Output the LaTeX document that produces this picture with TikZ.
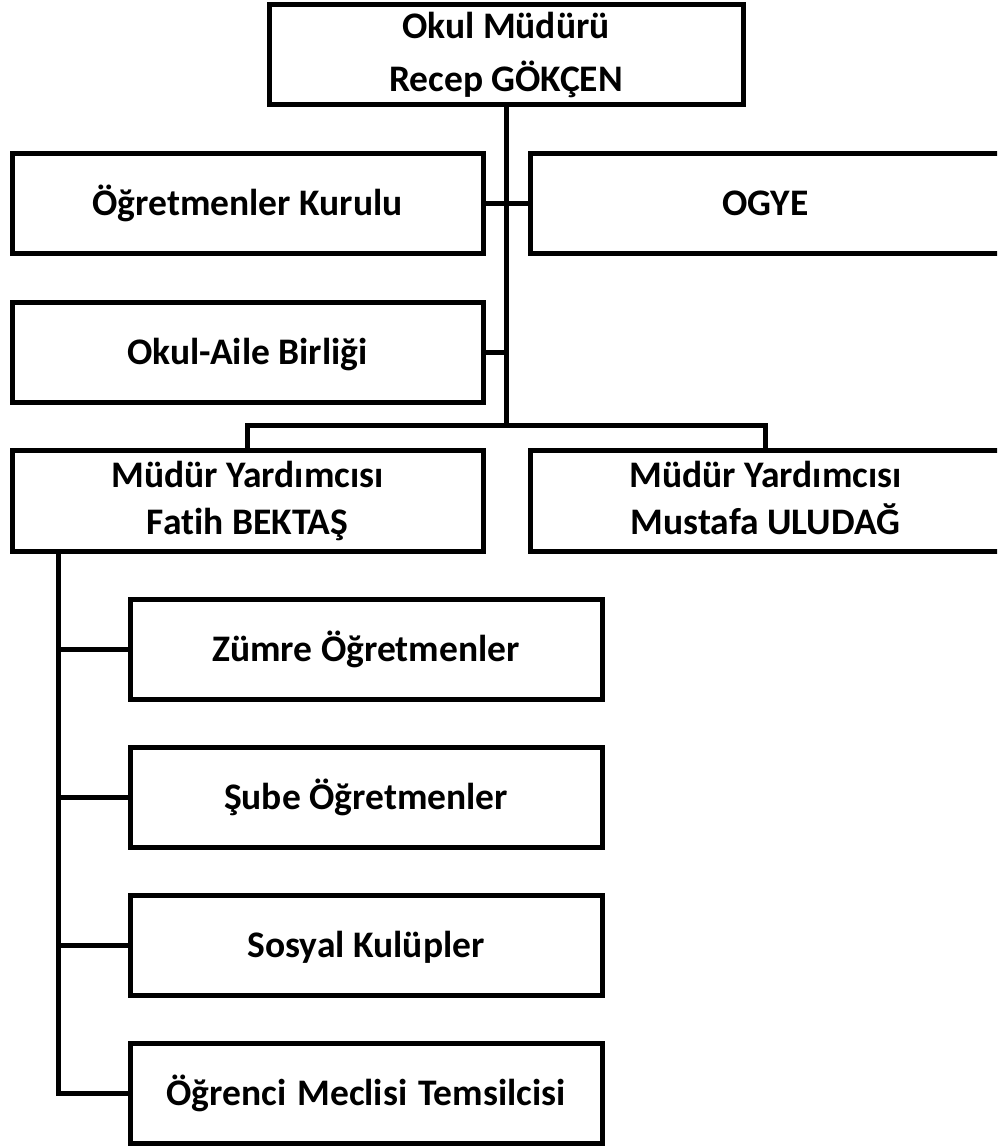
\documentclass[tikz,border=0pt]{standalone}
\usepackage{fontspec}
\setmainfont{Carlito}[Ligatures=NoCommon]
\usetikzlibrary{calc}
\tikzset{
  orgbox/.style={draw=black, line width=5pt, fill=white, rectangle, inner sep=0pt,
    minimum width=471pt, minimum height=100pt},
  topbox/.style={orgbox, minimum width=474pt},
  subbox/.style={orgbox, minimum width=472pt, minimum height=100pt},
  lbl/.style={font=\fontsize{37.5}{42}\selectfont\bfseries, text=black, inner sep=0pt},
  onel/.style={lbl, text height=24pt, text depth=0pt},
  conn/.style={draw=black, line width=5pt}
}
\begin{document}
\begin{tikzpicture}[x=1pt, y=-1pt]
\clip (0,0) rectangle (997,1147);
\fill[white] (0,0) rectangle (997,1147);
% boxes
\node[topbox] (top) at (506,55) {};
\node[orgbox] (okurul) at (247.5,204) {};
\node[orgbox] (ogye) at (765.5,204) {};
\node[orgbox] (oab) at (247.5,352) {};
\node[orgbox, minimum height=101pt] (my1) at (247.5,500.5) {};
\node[orgbox, minimum height=101pt] (my2) at (765.5,500.5) {};
\node[subbox] (zum) at (366,649) {};
\node[subbox] (sube) at (366,797) {};
\node[subbox] (sos) at (366,945) {};
\node[subbox] (ogr) at (366,1093) {};
% texts
\node[lbl, anchor=base] (top-a) at ($(top.center)+(0,-16.5)$) {Okul Müdürü};
\node[lbl, anchor=base] (top-b) at ($(top.center)+(0,37)$) {Recep GÖKÇEN};
\node[onel] (okurul-t) at (okurul.center) {Öğretmenler Kurulu};
\node[onel] (ogye-t) at (ogye.center) {OGYE};
\node[onel] (oab-t) at (oab.center) {Okul-Aile Birliği};
\node[lbl, anchor=base] (my1-a) at ($(my1.center)+(0,-13)$) {Müdür Yardımcısı};
\node[lbl, anchor=base] (my1-b) at ($(my1.center)+(0,34)$) {Fatih BEKTAŞ};
\node[lbl, anchor=base] (my2-a) at ($(my2.center)+(0,-13)$) {Müdür Yardımcısı};
\node[lbl, anchor=base] (my2-b) at ($(my2.center)+(0,34)$) {Mustafa ULUDAĞ};
\node[onel] (zum-t) at (zum.center) {Zümre Öğretmenler};
\node[onel] (sube-t) at (sube.center) {Şube Öğretmenler};
\node[onel] (sos-t) at (sos.center) {Sosyal Kulüpler};
\node[onel] (ogr-t) at (ogr.center) {Öğrenci\hspace{11pt}Meclisi\hspace{11pt}Temsilcisi};
% connectors
\coordinate (bar) at (top.south |- 0,425);
\coordinate (spine) at (58,0 |- my1.south);
\draw[conn] (top.south) -- (bar);
\draw[conn] (okurul.east) -- (ogye.west);
\draw[conn] (oab.east) -- (oab.east -| top.south);
\draw[conn] (my1.north) |- (bar) -| (my2.north);
\draw[conn] (spine) |- (ogr.west);
\draw[conn] (zum.west) -- (zum.west -| spine);
\draw[conn] (sube.west) -- (sube.west -| spine);
\draw[conn] (sos.west) -- (sos.west -| spine);
\end{tikzpicture}
\end{document}
